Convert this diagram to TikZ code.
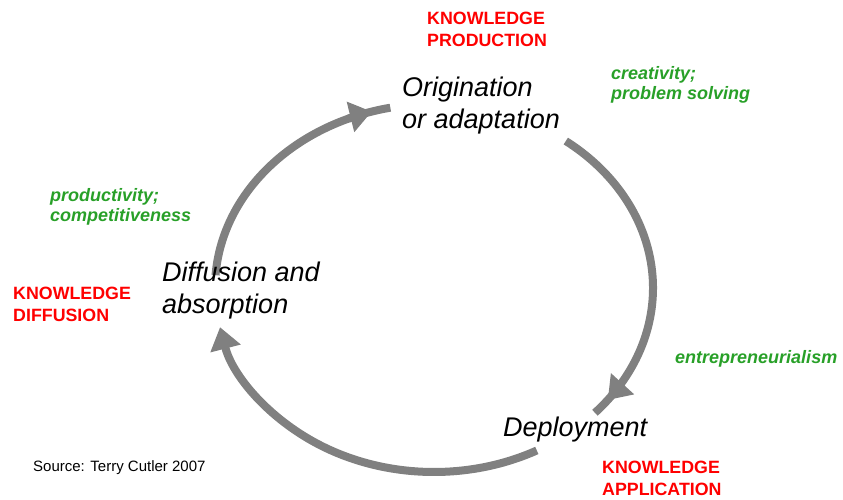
\documentclass[tikz,border=0pt]{standalone}
\usepackage{fontspec}
\setmainfont{Liberation Sans}
\usetikzlibrary{arrows.meta}
\definecolor{kred}{RGB}{255,0,0}
\definecolor{kgreen}{RGB}{40,160,40}
\definecolor{arcgray}{RGB}{128,128,128}
\tikzset{
  big/.style={font=\fontsize{27}{32}\selectfont\itshape, anchor=base west, inner sep=0pt, align=left},
  redlbl/.style={font=\fontsize{17.8}{22}\selectfont\bfseries, text=kred, anchor=base west, inner sep=0pt, align=left},
  greenlbl/.style={font=\fontsize{18}{20}\selectfont\bfseries\itshape, text=kgreen, anchor=base west, inner sep=0pt, align=left},
  srclbl/.style={font=\fontsize{15}{17}\selectfont, anchor=base west, inner sep=0pt},
  cyc/.style={draw=arcgray, line width=8pt},
  cyctip/.style={cyc, -{Triangle[length=22pt,width=30pt]}},
}
\begin{document}
\begin{tikzpicture}[x=1pt,y=1pt]
\useasboundingbox (0,0) rectangle (843,500);
\coordinate (c) at (434,212);
% cycle arcs (ellipse centre c, radii 219 x 184)
\draw[cyc] ([shift={(176:219 and 184)}]c) arc[start angle=176,end angle=101.5,x radius=219,y radius=184];
\draw[cyctip] ([shift={(113:219 and 184)}]c) arc[start angle=113,end angle=106.5,x radius=219,y radius=184];
\draw[cyc] ([shift={(53:219 and 184)}]c) arc[start angle=53,end angle=-42.7,x radius=219,y radius=184];
\draw[cyctip] ([shift={(-31:219 and 184)}]c) arc[start angle=-31,end angle=-37.5,x radius=219,y radius=184];
\draw[cyctip] ([shift={(-62:219 and 184)}]c) arc[start angle=-62,end angle=-167.7,x radius=219,y radius=184];
% stage labels
\node[big] (orig) at (402,371) {Origination\\or adaptation};
\node[big] (diff) at (162,186) {Diffusion and\\absorption};
\node[big] (depl) at (503,63) {Deployment};
% red labels
\node[redlbl] (prod) at (427,453) {KNOWLEDGE\\PRODUCTION};
\node[redlbl] (kdif) at (13,178) {KNOWLEDGE\\DIFFUSION};
\node[redlbl] (appl) at (602,4) {KNOWLEDGE\\APPLICATION};
% green labels
\node[greenlbl] (crea) at (611,400) {creativity;\\problem solving};
\node[greenlbl] (prodv) at (50,278) {productivity;\\competitiveness};
\node[greenlbl] (entr) at (675,136) {entrepreneurialism};
% source
\node[srclbl] (src) at (33,28) {Source: Terry Cutler 2007};
\end{tikzpicture}
\end{document}
